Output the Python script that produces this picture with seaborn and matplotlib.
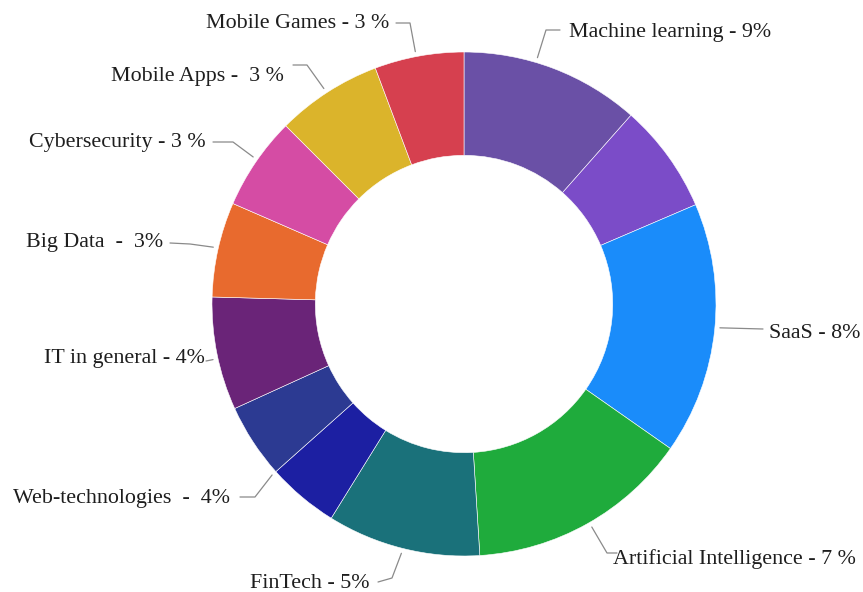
import numpy as np
import matplotlib.pyplot as plt
import seaborn as sns

# wedge sizes (share of the ring, clockwise from 12 o'clock)
segment_shares = [41.5, 25.3, 58.2, 51.4, 35.4, 16.5, 17.2, 26.1, 21.9, 21.5, 24.4, 20.6]
segment_colors = ["#6a50a6", "#7b4cc8", "#1a8cfa", "#1fab3c", "#1a717a", "#1c1fa2",
                  "#2c3a92", "#6a2478", "#e86a2e", "#d54ca4", "#dbb42b", "#d6404f"]
segment_labels = ["Machine learning - 9%", "", "SaaS - 8%", "Artificial Intelligence - 7 %",
                  "FinTech - 5%", "", "Web-technologies  -  4%", "IT in general - 4%",
                  "Big Data  -  3%", "Cybersecurity - 3 %", "Mobile Apps -  3 %",
                  "Mobile Games - 3 %"]

# label layout in pixels: (fraction along wedge, elbow, line end, text pos, align)
label_layout = {
    0: (0.40, (546, 30), (560, 30), (569, 32), "left"),
    2: (0.49, None, (763, 329), (769, 333), "left"),
    3: (0.49, (607, 553), (617, 553), (613, 559), "left"),
    4: (0.50, (392, 578), (378, 582), (370, 583), "right"),
    6: (0.0, (255, 497), (240, 497), (230, 498), "right"),
    7: (0.46, None, (206, 361), (205, 358), "right"),
    8: (0.51, (190, 244), (170, 243), (163, 243), "right"),
    9: (0.53, (233, 142), (213, 142), (206, 142), "right"),
    10: (0.49, (307, 65), (293, 65), (284, 76), "right"),
    11: (0.47, (410, 23), (396, 23), (389, 23), "right"),
}

sns.set_theme(style="white")
plt.rcParams["font.family"] = ["Liberation Serif", "DejaVu Serif"]

W, H = 863, 592
cx, cy, R = 464, 304, 252


def to_data(p):
    return (p[0] - cx) / R, (cy - p[1]) / R


fig = plt.figure(figsize=(W / 100, H / 100), dpi=100)
ax = fig.add_axes([0, 0, 1, 1])

wedges, _ = ax.pie(segment_shares, colors=segment_colors, startangle=90,
                   counterclock=False, radius=1.0,
                   wedgeprops=dict(width=0.41, edgecolor="white", linewidth=0.4))

for i, (frac, elbow, end, tpos, ha) in label_layout.items():
    w = wedges[i]
    ang = np.deg2rad(w.theta2 - frac * (w.theta2 - w.theta1))
    pts = [(1.02 * np.cos(ang), 1.02 * np.sin(ang))]
    if elbow is not None:
        pts.append(to_data(elbow))
    pts.append(to_data(end))
    xs, ys = zip(*pts)
    ax.plot(xs, ys, color="#8a8a8a", lw=0.9)
    tx, ty = to_data(tpos)
    ax.text(tx, ty, segment_labels[i], ha=ha, va="center", fontsize=15.8, color="#1e1e1e")

ax.set_xlim(-cx / R, (W - cx) / R)
ax.set_ylim(-(H - cy) / R, cy / R)
ax.set_aspect("equal")
ax.axis("off")

fig.savefig("out.png", dpi=100)
